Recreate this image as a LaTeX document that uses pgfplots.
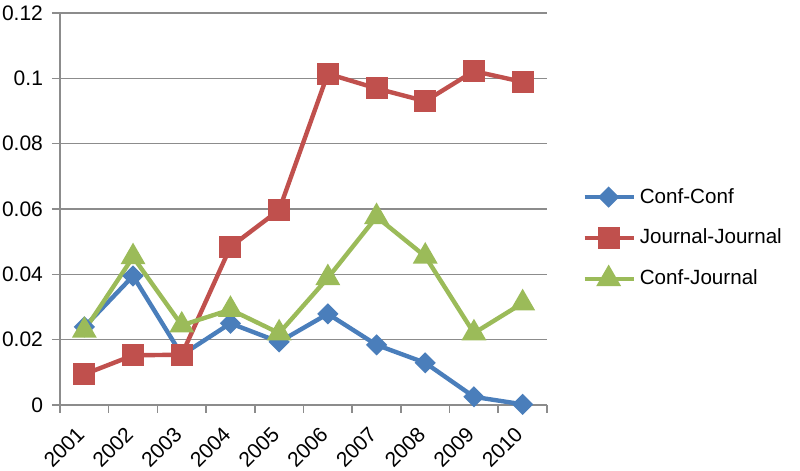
\documentclass[border=0pt]{standalone}
\usepackage{pgfplots}
\pgfplotsset{compat=1.18}
\usepackage{fontspec}
\setmainfont{Liberation Sans}
\definecolor{cblue}{HTML}{4A7EBB}
\definecolor{cred}{HTML}{C0504D}
\definecolor{cgreen}{HTML}{9BBB59}
\definecolor{cgrid}{HTML}{8C8C8C}
\begin{document}
\begin{tikzpicture}
\begin{axis}[
  at={(0,0)}, anchor=south west,
  scale only axis,
  width=243.5pt, height=196pt,
  xmin=0.5, xmax=10.5,
  ymin=0, ymax=0.12,
  axis lines=left,
  axis line style={-, draw=cgrid, line width=0.8pt},
  xtick={1,...,10},
  xticklabels={2001,2002,2003,2004,2005,2006,2007,2008,2009,2010},
  minor xtick={0.5,1.5,...,10.5},
  major x tick style={draw=none},
  minor x tick style={draw=cgrid, line width=0.8pt},
  tick align=outside,
  minor tick length=4pt,
  major tick length=4pt,
  ytick={0,0.02,...,0.121},
  y tick style={draw=cgrid, line width=0.8pt},
  ymajorgrids,
  grid style={draw=cgrid, line width=0.8pt},
  /pgf/number format/assume math mode=true,
  yticklabel style={/pgf/number format/fixed, /pgf/number format/precision=2, xshift=-1pt},
  xticklabel style={xshift=-4.5pt, yshift=-6pt, rotate=45, anchor=north east, inner sep=0pt},
  tick label style={font=\fontsize{10.5}{12.5}\selectfont},
  clip=false,
  legend style={draw=none, fill=none, at={(1.072,0.426)}, anchor=west,
    font=\fontsize{10.3}{12}\selectfont, row sep=7.5pt, inner sep=0pt},
  legend cell align=left,
  legend image code/.code={
    \draw[mark repeat=2, mark phase=2] plot coordinates {(0pt,0pt) (12pt,0pt) (24.5pt,0pt)};
  },
  every axis plot/.append style={line width=2.2pt},
]
\addplot[cblue, mark=square*, mark size=2.65pt, mark options={rotate=45, solid}] coordinates {
(1,0.0239) (2,0.0395) (3,0.0153) (4,0.0250) (5,0.0193) (6,0.0279) (7,0.0184) (8,0.0129) (9,0.0025) (10,0.0002)};
\addlegendentry{Conf-Conf}
\addplot[cred, mark=square*, mark size=4.4pt, mark options={solid}] coordinates {
(1,0.0094) (2,0.0152) (3,0.0154) (4,0.0484) (5,0.0597) (6,0.1014) (7,0.0969) (8,0.0930) (9,0.1022) (10,0.0989)};
\addlegendentry{Journal-Journal}
\addplot[cgreen, mark=triangle*, mark size=5pt, mark options={solid}] coordinates {
(1,0.0228) (2,0.0453) (3,0.0244) (4,0.0292) (5,0.0220) (6,0.0389) (7,0.0576) (8,0.0455) (9,0.0220) (10,0.0312)};
\addlegendentry{Conf-Journal}
\coordinate (ll) at (rel axis cs:0,0);
\coordinate (ur) at (rel axis cs:1,1);
\end{axis}
\pgfresetboundingbox
\path[use as bounding box] ([shift={(-30pt,-33pt)}]ll) rectangle ([shift={(126.5pt,6.5pt)}]ur);
\end{tikzpicture}
\end{document}
